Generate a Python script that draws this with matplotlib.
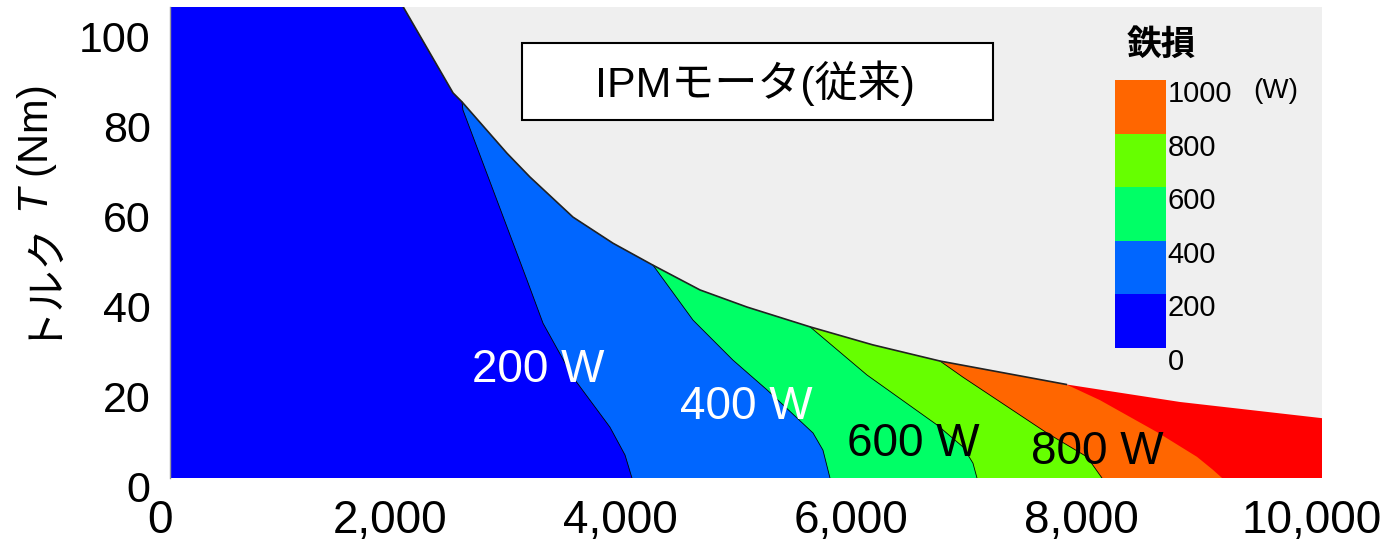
# Iron loss map of the conventional IPM motor (speed vs torque)

import numpy as np
import matplotlib
matplotlib.use("Agg")
import matplotlib.pyplot as plt
from matplotlib.colors import ListedColormap, BoundaryNorm
from matplotlib.cm import ScalarMappable
from matplotlib.patches import Rectangle
from matplotlib.transforms import ScaledTranslation

plt.rcParams['font.family'] = ['Liberation Sans', 'Noto Sans CJK JP']
plt.rcParams['mathtext.fontset'] = 'custom'
plt.rcParams['mathtext.it'] = 'Liberation Sans:italic'
plt.rcParams['mathtext.rm'] = 'Liberation Sans'

# torque limit curve (speed rpm, torque Nm)
env_speed = [0, 2025, 2457, 2535, 2925, 3125, 3498, 3845, 4193, 4601, 5009, 5556, 6100, 6684, 7780, 8767, 10000]
env_torque = [104.7, 104.7, 85.6, 83.6, 72.2, 66.9, 58.0, 52.2, 47.3, 41.8, 38.0, 33.6, 29.6, 26.0, 20.8, 16.9, 13.3]

# iron loss contour boundaries, from the torque limit down to T = 0
c200_speed = [2535, 2543, 3099, 3238, 3498, 3819, 3950, 4010]
c200_torque = [83.6, 81.8, 44.0, 34.4, 22.4, 11.3, 5.1, 0]
c400_speed = [4193, 4540, 4887, 5182, 5582, 5668, 5729]
c400_torque = [47.3, 35.1, 26.2, 19.6, 10.0, 6.2, 0]
c600_speed = [5556, 6050, 6658, 6884, 6970, 7005]
c600_torque = [33.6, 22.9, 11.8, 6.9, 3.3, 0]
c800_speed = [6684, 6884, 7613, 7960, 8090]
c800_torque = [26.0, 22.4, 10.0, 4.7, 0]
c1000_speed = [7780, 8073, 8568, 8915, 9054, 9132]
c1000_torque = [20.8, 17.3, 10.2, 4.7, 1.8, 0]

levels = [0, 200, 400, 600, 800, 1000]
level_colors = ['#0000FF', '#0066FF', '#00FF66', '#66FF00', '#FF6600']
over_color = '#FF0000'

contour_labels = ['200 W', '400 W', '600 W', '800 W']
label_speed = [3194, 5000, 6450, 8047]
label_torque = [24.0, 15.8, 7.5, 5.7]
label_colors = ['white', 'white', 'black', 'black']

x_ticks = [0, 2000, 4000, 6000, 8000, 10000]
y_ticks = [0, 20, 40, 60, 80, 100]

fig = plt.figure(figsize=(13.93, 5.41), dpi=100)
ax = fig.add_axes([170 / 1393, 63 / 541, 1152 / 1393, 471 / 541])
ax.set_facecolor('#EFEFEF')

env_speed = np.array(env_speed)
env_torque = np.array(env_torque)


def region_left_of(bs, bt):
    # polygon under the torque limit and left of a contour boundary
    keep = env_speed < bs[0]
    xs = [0] + list(env_speed[keep]) + list(bs) + [0]
    ys = [0] + list(env_torque[keep]) + list(bt) + [0]
    return xs, ys


# everything above 1000 W first, then paint lower levels on top
ax.fill(list(env_speed) + [10000, 0], list(env_torque) + [0, 0], color=over_color, lw=0)
bounds = [(c1000_speed, c1000_torque), (c800_speed, c800_torque), (c600_speed, c600_torque),
          (c400_speed, c400_torque), (c200_speed, c200_torque)]
for (bs, bt), col in zip(bounds, level_colors[::-1]):
    xs, ys = region_left_of(bs, bt)
    ax.fill(xs, ys, color=col, lw=0)

# contour lines and torque limit line
for bs, bt in bounds[1:]:
    ax.plot(bs, bt, color='black', lw=0.6)
lim = env_speed <= 7780
ax.plot(env_speed[lim][1:], env_torque[lim][1:], color='#222222', lw=1.2)

for txt, sx, ty, c in zip(contour_labels, label_speed, label_torque, label_colors):
    ax.text(sx, ty, txt, color=c, fontsize=33, ha='center', va='center')

ax.set_xlim(0, 10000)
ax.set_ylim(0, 104.7)
ax.set_xticks(x_ticks)
ax.set_xticklabels([f'{v:,}' for v in x_ticks])
ax.set_yticks(y_ticks)
ax.tick_params(axis='x', length=0, pad=15, labelsize=33)
ax.tick_params(axis='y', length=0, pad=14, labelsize=31)
for lab in ax.get_xticklabels():
    lab.set_transform(lab.get_transform() + ScaledTranslation(-0.10, 0, fig.dpi_scale_trans))
for lab in ax.get_yticklabels():
    lab.set_transform(lab.get_transform() + ScaledTranslation(0, -0.08, fig.dpi_scale_trans))
for side in ['top', 'right', 'bottom']:
    ax.spines[side].set_visible(False)
ax.spines['left'].set_color('#999999')
ax.spines['left'].set_linewidth(1)

# y label: Japanese part and italic T part, joined end to end on one baseline
ax.text(-0.1059, 0.56, 'トルク', transform=ax.transAxes, fontsize=30, rotation=90,
        rotation_mode='anchor', ha='right', va='baseline', family=['Noto Sans CJK JP'])
ax.text(-0.1059, 0.56, '$T$ (Nm)', transform=ax.transAxes, fontsize=30, rotation=90,
        rotation_mode='anchor', ha='left', va='baseline')

# title box
fig.patches.append(Rectangle((522 / 1393, 1 - 120 / 541), 471 / 1393, 77 / 541,
                             transform=fig.transFigure, facecolor='white',
                             edgecolor='black', lw=1.5, zorder=5))
fig.text(755 / 1393, 1 - 83 / 541, 'IPMモータ(従来)', fontsize=31,
         ha='center', va='center', zorder=6)

# colour bar
cax = fig.add_axes([1115 / 1393, 1 - 348 / 541, 51 / 1393, 268 / 541])
sm = ScalarMappable(norm=BoundaryNorm(levels, len(level_colors)), cmap=ListedColormap(level_colors))
cb = fig.colorbar(sm, cax=cax, ticks=levels)
cb.outline.set_visible(False)
cb.ax.tick_params(length=0, pad=1, labelsize=21)
for lab in cb.ax.get_yticklabels():
    lab.set_verticalalignment('top')
fig.text(1161 / 1393, 1 - 45 / 541, '鉄損', fontsize=25, fontweight='bold',
         ha='center', va='center')
fig.text(1253 / 1393, 1 - 91 / 541, '(W)', fontsize=20, ha='left', va='center')

fig.savefig('out.png', dpi=100)
